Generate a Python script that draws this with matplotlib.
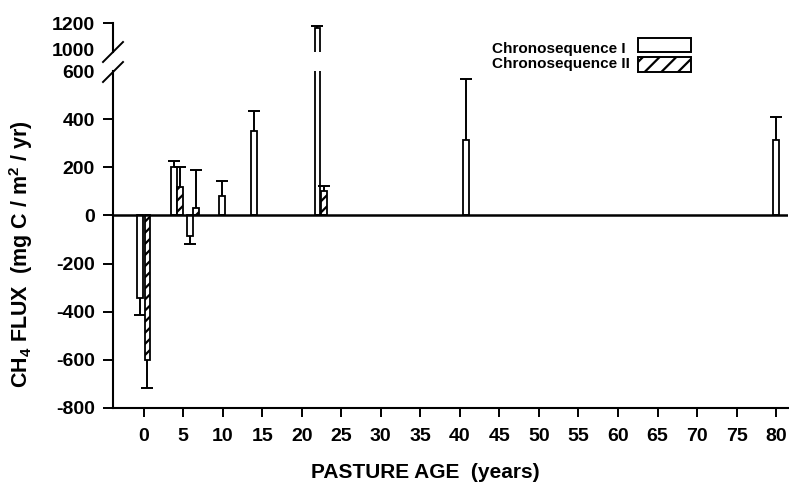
import numpy as np
import matplotlib
matplotlib.use("Agg")
import matplotlib.pyplot as plt
from matplotlib.lines import Line2D
from matplotlib.patches import Rectangle

plt.rcParams['font.family'] = ['Liberation Sans', 'DejaVu Sans']
plt.rcParams['font.weight'] = 'bold'
plt.rcParams['mathtext.fontset'] = 'custom'
plt.rcParams['mathtext.bf'] = 'Liberation Sans:bold'
plt.rcParams['mathtext.rm'] = 'Liberation Sans:bold'
plt.rcParams['mathtext.default'] = 'bf'
plt.rcParams['hatch.linewidth'] = 1.6

# chronosequence I (open bars)
age_I = [-0.4, 3.8, 5.9, 9.9, 14.0, 22.0, 40.8, 80.0]
flux_I = [-345, 200, -85, 80, 350, 1160, 315, 315]
err_I = [70, 25, 35, 62, 85, 15, 250, 95]

# chronosequence II (hatched bars)
age_II = [0.5, 4.6, 6.6, 22.8]
flux_II = [-600, 120, 30, 100]
err_II = [115, 80, 160, 22]

xticks = list(range(0, 85, 5))
yticks_low = [-800, -600, -400, -200, 0, 200, 400, 600]
yticks_high = [1000, 1200]

fig = plt.figure(figsize=(7.89, 4.84), dpi=100)
W, H = 789.0, 484.0
ax = fig.add_axes([113 / W, (H - 408) / H, (788 - 113) / W, (408 - 71) / H])
axt = fig.add_axes([113 / W, (H - 52) / H, (788 - 113) / W, (52 - 23) / H])


def draw_series(a, x, v, e, hatch=None):
    x = np.asarray(x, float)
    v = np.asarray(v, float)
    e = np.asarray(e, float)
    a.bar(x, v, width=0.75, color='white', edgecolor='black', linewidth=1.3,
          hatch=hatch, zorder=3)
    # error bar only on the side the bar points to
    tip = v + np.sign(v) * e
    a.vlines(x, v, tip, color='black', lw=1.4, zorder=3)
    a.plot(x, tip, ls='none', marker='_', ms=8, mew=1.4, color='black', zorder=3)


for a in (ax, axt):
    draw_series(a, age_I, flux_I, err_I)
    draw_series(a, age_II, flux_II, err_II, hatch='///')

xlim = (-3.86, 81.5)
ax.set_xlim(*xlim)
axt.set_xlim(*xlim)
ax.set_ylim(-800, 600)
axt.set_ylim(980, 1200)

ax.axhline(0, color='black', lw=1.8, zorder=4)

ax.set_xticks(xticks)
ax.set_xticklabels([str(t) for t in xticks])
ax.set_yticks(yticks_low)
ax.set_yticklabels([str(t) for t in yticks_low])
ax.yaxis.get_major_ticks()[-1].tick1line.set_visible(False)

axt.set_yticks(yticks_high)
axt.set_yticklabels([str(t) for t in yticks_high])
axt.yaxis.get_major_ticks()[0].tick1line.set_visible(False)
axt.set_xticks([])

for a in (ax, axt):
    a.spines['top'].set_visible(False)
    a.spines['right'].set_visible(False)
    a.spines['left'].set_linewidth(1.5)
    a.spines['bottom'].set_linewidth(1.5)
    a.tick_params(axis='y', direction='out', length=7, width=1.4, pad=6, labelsize=14)
    a.tick_params(axis='x', direction='out', length=6.5, width=1.4, pad=8, labelsize=14)
    a.patch.set_visible(False)
axt.spines['bottom'].set_visible(False)

# break marks on the y axis
for y0, y1 in [(62, 42), (82, 62)]:
    fig.add_artist(Line2D([103 / W, 123 / W], [(H - y0) / H, (H - y1) / H],
                          color='black', lw=1.4, transform=fig.transFigure))

fig.text(425 / W, (H - 473) / H, 'PASTURE AGE  (years)', ha='center', va='center',
         fontsize=15, fontweight='bold')
fig.text(21 / W, (H - 254) / H, r'CH$_4$ FLUX  (mg C / m$^2$ / yr)', ha='center',
         va='center', rotation=90, fontsize=15.5, fontweight='bold')

# legend, drawn by hand to match the boxed keys
legend_rows = [('Chronosequence I', None, 38, 52, 49),
               ('Chronosequence II', '//', 57, 72, 64)]
for label, hatch, top, bot, ty in legend_rows:
    fig.add_artist(Rectangle((638 / W, (H - bot) / H), 53 / W, (bot - top) / H,
                             facecolor='white', edgecolor='black', lw=1.4,
                             hatch=hatch, transform=fig.transFigure))
    fig.text(492 / W, (H - ty) / H, label, ha='left', va='center',
             fontsize=11, fontweight='bold')

fig.savefig('out.png', dpi=100)
